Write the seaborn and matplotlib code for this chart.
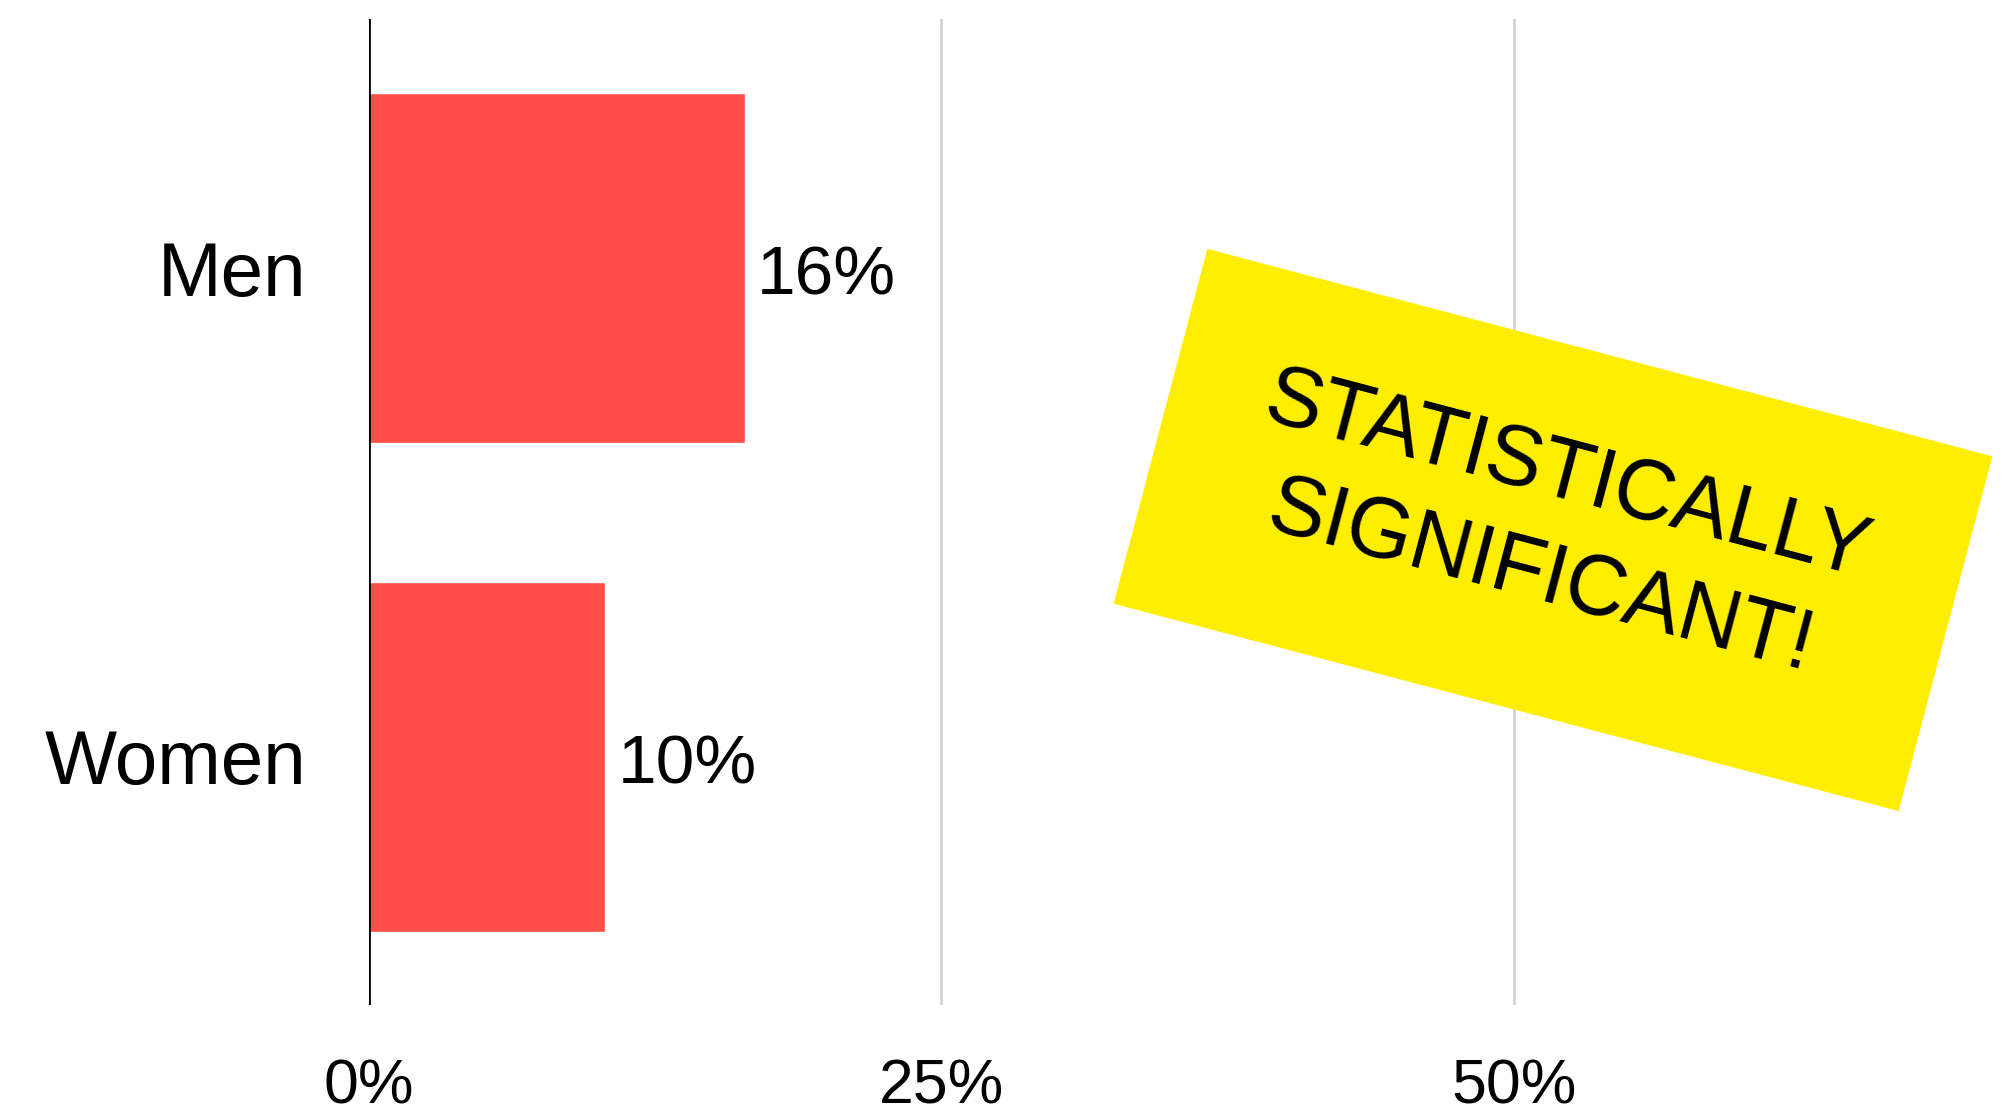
import matplotlib
matplotlib.use("Agg")
import matplotlib.pyplot as plt
import matplotlib.patches as mpatches
from matplotlib.transforms import Affine2D
import pandas as pd
import seaborn as sns

# Share of respondents by group
groups = ["Men", "Women"]
shares = [16.4, 10.3]
x_ticks = [0, 25, 50]
x_tick_labels = ["0%", "25%", "50%"]
stamp_text = "STATISTICALLY\nSIGNIFICANT!"

BAR_COLOR = "#FF4D47"
STAMP_COLOR = "#FFEE00"

sns.set_theme(style="white")
plt.rcParams["font.family"] = ["Liberation Sans", "DejaVu Sans"]

df = pd.DataFrame({"group": groups, "share": shares})

fig = plt.figure(figsize=(20.03, 11.13), dpi=100)
ax = fig.add_axes([0.1842, 0.097, 0.8003, 0.886])

sns.barplot(data=df, x="share", y="group", orient="h", color=BAR_COLOR,
            width=0.716, saturation=1, ax=ax, zorder=2)

ax.set_xlim(0, 70)
ax.set_ylim(1.508, -0.51)
ax.set_xticks(x_ticks)
ax.set_xticklabels(x_tick_labels)
ax.set_xlabel("")
ax.set_ylabel("")

for x in x_ticks[1:]:
    ax.axvline(x, color="#D3D3D3", lw=2, zorder=0)
ax.axvline(0, color="black", lw=2, zorder=3)

for s in ax.spines.values():
    s.set_visible(False)

ax.tick_params(axis="x", length=0, pad=38, labelsize=45, labelcolor="black")
ax.tick_params(axis="y", length=0, pad=45, labelsize=55, labelcolor="black")
for lbl in ax.get_yticklabels():
    lbl.set_verticalalignment("center_baseline")

# Value labels just past the end of each bar
for i, v in enumerate(shares):
    ax.annotate(f"{v:.0f}%", xy=(v, i), xytext=(9, -19),
                textcoords="offset points", va="baseline", ha="left",
                fontsize=50, color="black")

# Rotated yellow stamp over the right side of the chart
cx, cy = 15.53, 5.83  # inches
w, h = 8.12, 3.67
angle = -14.8
rect = mpatches.Rectangle((cx - w / 2, cy - h / 2), w, h,
                          facecolor=STAMP_COLOR, edgecolor="none",
                          transform=Affine2D().rotate_deg_around(cx, cy, angle)
                          + fig.dpi_scale_trans, zorder=10)
fig.patches.append(rect)
fig.text(cx / 20.03, (cy + 0.02) / 11.13, stamp_text, rotation=angle,
         rotation_mode="anchor", ha="center", va="center",
         multialignment="center", fontsize=61, color="black",
         linespacing=1.4, zorder=11)

fig.savefig("out.png", dpi=100)
